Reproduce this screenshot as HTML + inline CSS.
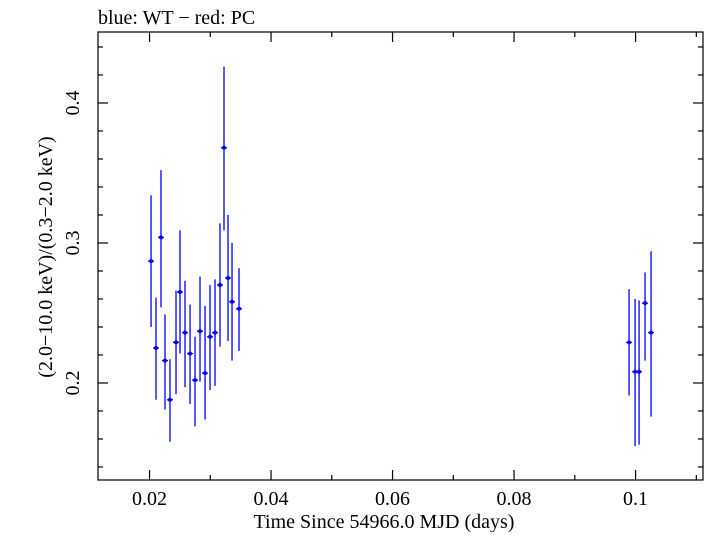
<!DOCTYPE html>
<html><head><meta charset="utf-8"><style>
body{margin:0;background:#fff;}
svg text{font-family:"Liberation Serif",serif;fill:#000;}
</style></head><body>
<svg id="chart" width="705" height="532" xmlns="http://www.w3.org/2000/svg">
<text x="98" y="24" font-size="20">blue: WT − red: PC</text>
<g id="axes"></g>
<g id="marks"></g>
<text x="384" y="528" font-size="20" text-anchor="middle">Time Since 54966.0 MJD (days)</text>
<text transform="translate(52,257) rotate(-90)" font-size="20" text-anchor="middle">(2.0−10.0 keV)/(0.3−2.0 keV)</text>
</svg>
<script>
const times=[0.02025,0.02107,0.02189,0.02255,0.02337,0.02436,0.02502,0.02584,0.02667,0.02749,0.02831,0.02914,0.02996,0.03078,0.03160,0.03226,0.03292,0.03358,0.03473,0.09893,0.09992,0.10058,0.10156,0.10255];
const ratios=[0.287,0.225,0.304,0.216,0.188,0.229,0.265,0.236,0.221,0.202,0.237,0.207,0.233,0.236,0.270,0.368,0.275,0.258,0.253,0.229,0.208,0.208,0.257,0.236];
const errHigh=[0.334,0.261,0.352,0.249,0.217,0.266,0.309,0.273,0.256,0.233,0.276,0.255,0.270,0.274,0.314,0.426,0.320,0.300,0.282,0.267,0.260,0.259,0.279,0.294];
const errLow=[0.240,0.188,0.254,0.181,0.158,0.192,0.221,0.197,0.185,0.169,0.201,0.174,0.195,0.198,0.226,0.309,0.230,0.216,0.223,0.191,0.155,0.156,0.216,0.176];
const xTicks=[0.02,0.04,0.06,0.08,0.1];
const xTickLabels=["0.02","0.04","0.06","0.08","0.1"];
const yTicks=[0.2,0.3,0.4];
const yTickLabels=["0.2","0.3","0.4"];

const L=98,R=703,T=32,B=480;
const xMin=0.01152,xMax=0.1111,yMin=0.1307,yMax=0.4507;
const X=v=>L+(v-xMin)/(xMax-xMin)*(R-L);
const Y=v=>B-(v-yMin)/(yMax-yMin)*(B-T);
const NS="http://www.w3.org/2000/svg";
function mk(tag,attrs,parent){const e=document.createElementNS(NS,tag);for(const k in attrs)e.setAttribute(k,attrs[k]);parent.appendChild(e);return e;}
const axes=document.getElementById('axes'),marks=document.getElementById('marks');
const frame=mk('rect',{x:L,y:T,width:R-L,height:B-T,fill:'none',stroke:'#000','stroke-width':1.2},axes);


for(let v=0.02;v<=0.1105;v+=0.01){
  const major=Math.abs(Math.round(v*50)-v*50)<1e-6;const len=major?10:5;const x=X(v);
  const t1=mk('line',{x1:x,x2:x,y1:B,y2:B-len,stroke:'#000','stroke-width':1.2},axes);
  
  
  const t2=mk('line',{x1:x,x2:x,y1:T,y2:T+len,stroke:'#000','stroke-width':1.2},axes);
  
  
}
xTicks.forEach((v,i)=>{const t=mk('text',{x:X(v),y:505,'font-size':20,'text-anchor':'middle'},axes);t.textContent=xTickLabels[i];
  
  });
for(let v=0.14;v<=0.45;v+=0.02){
  const major=Math.abs(Math.round(v*10)-v*10)<1e-6;const len=major?10:5;const y=Y(v);
  const t1=mk('line',{x1:L,x2:L+len,y1:y,y2:y,stroke:'#000','stroke-width':1.2},axes);
  
  
  const t2=mk('line',{x1:R,x2:R-len,y1:y,y2:y,stroke:'#000','stroke-width':1.2},axes);
  
  
}
yTicks.forEach((v,i)=>{const t=mk('text',{transform:`translate(79,${Y(v)}) rotate(-90)`,'font-size':20,'text-anchor':'middle'},axes);t.textContent=yTickLabels[i];
  
  });
times.forEach((t,i)=>{
  const g=mk('g',{},marks);
  
  
  const x=X(t),y=Y(ratios[i]);
  mk('line',{x1:x,x2:x,y1:Y(errHigh[i]),y2:Y(errLow[i]),stroke:'#0000ff','stroke-width':1.3},g);
  mk('line',{x1:x-3,x2:x+3,y1:y,y2:y,stroke:'#0000ff','stroke-width':1.3},g);
  mk('circle',{cx:x,cy:y,r:2,fill:'#0000ff'},g);
});
</script>
</body></html>
